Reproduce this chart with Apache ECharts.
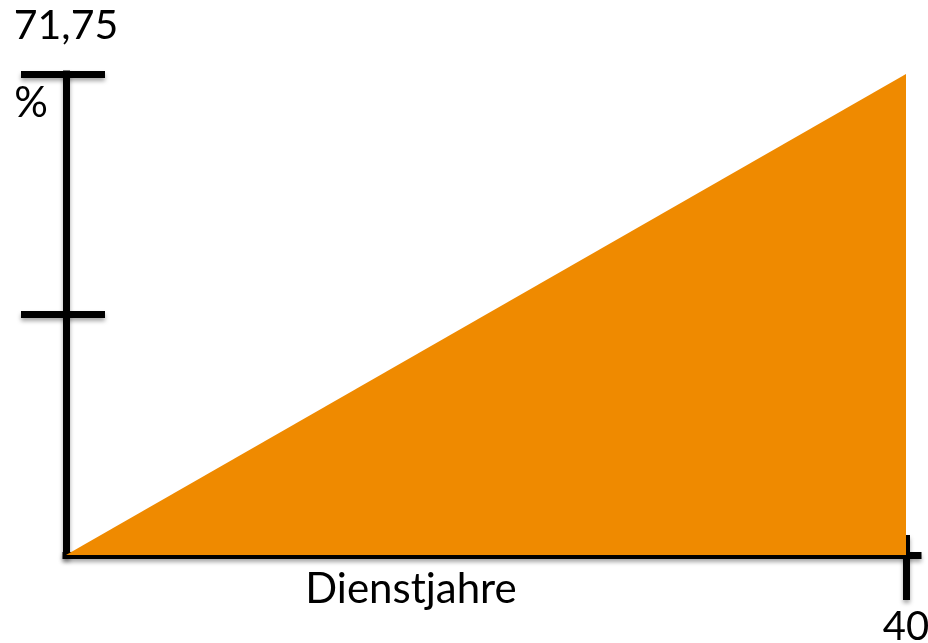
<!DOCTYPE html>
<html>
<head>
<meta charset="utf-8">
<script src="https://cdn.jsdelivr.net/npm/echarts@6/dist/echarts.min.js"></script>
<style>
html,body{margin:0;padding:0;background:#fff;}
#c{width:928px;height:643px;}
</style>
</head>
<body>
<div id="c"></div>
<script>
// Data
const xValues = [0, 40];
const yValues = [0, 71.75];
const yTickValues = [35.875, 71.75];
const yTopLabel = '71,75';
const yUnitLabel = '%';
const xTickValues = [40];
const xLabel = 'Dienstjahre';

const FONT = 'Lato';
const BLACK = '#000';
const ORANGE = '#EF8A00';
const shadow = {shadowColor: 'rgba(0,0,0,0.35)', shadowBlur: 4, shadowOffsetY: 3};

const chart = echarts.init(document.getElementById('c'), null, {renderer: 'canvas'});
const seriesData = xValues.map((x, i) => [x, yValues[i]]);

const option = {
  animation: false,
  backgroundColor: '#fff',
  grid: {left: 66, right: 10, top: 74, bottom: 88, containLabel: false, outerBoundsMode: 'none'},
  xAxis: [
    {
      type: 'value', min: 0, max: 40.57, position: 'bottom',
      splitLine: {show: false},
      axisLine: {show: true, lineStyle: Object.assign({color: BLACK, width: 7, cap: 'square'}, shadow)},
      axisTick: {show: true, customValues: xTickValues, length: 45, inside: false,
        lineStyle: Object.assign({color: BLACK, width: 7}, shadow)},
      axisLabel: {show: true, customValues: xTickValues, margin: 52,
        fontFamily: FONT, fontSize: 40, color: BLACK},
      name: xLabel, nameLocation: 'middle', nameGap: 13, nameMoveOverlap: false,
      nameTextStyle: {fontFamily: FONT, fontSize: 42, color: BLACK, padding: [0, 162, 0, 0]}
    },
    {
      type: 'value', min: 0, max: 40.57, position: 'bottom',
      splitLine: {show: false},
      axisLine: {show: false},
      axisTick: {show: true, customValues: xTickValues, length: 20, inside: true,
        lineStyle: Object.assign({color: BLACK, width: 7}, shadow)},
      axisLabel: {show: false}
    }
  ],
  yAxis: [
    {
      type: 'value', min: 0, max: 71.75, position: 'left',
      splitLine: {show: false},
      axisLine: {show: true, lineStyle: Object.assign({color: BLACK, width: 7, cap: 'square'}, shadow)},
      axisTick: {show: true, customValues: yTickValues, length: 45, inside: false,
        lineStyle: Object.assign({color: BLACK, width: 7}, shadow)},
      axisLabel: {show: true, customValues: [yValues[1]], formatter: () => yUnitLabel,
        margin: 18, fontFamily: FONT, fontSize: 42, color: BLACK,
        verticalAlign: 'top', padding: [8, 0, 0, 0]},
      name: yTopLabel, nameLocation: 'end', nameGap: 28, nameMoveOverlap: false,
      nameTextStyle: {fontFamily: FONT, fontSize: 41, color: BLACK, align: 'center'}
    },
    {
      type: 'value', min: 0, max: 71.75, position: 'left',
      splitLine: {show: false},
      axisLine: {show: false},
      axisTick: {show: true, customValues: yTickValues, length: 39, inside: true,
        lineStyle: Object.assign({color: BLACK, width: 7}, shadow)},
      axisLabel: {show: false}
    }
  ],
  series: [
    {
      type: 'line', xAxisIndex: 0, yAxisIndex: 0,
      data: seriesData, showSymbol: false, symbol: 'none',
      lineStyle: {width: 0, color: ORANGE},
      areaStyle: {color: ORANGE, opacity: 1},
      z: 1
    }
  ]
};
chart.setOption(option);
</script>
</body>
</html>
